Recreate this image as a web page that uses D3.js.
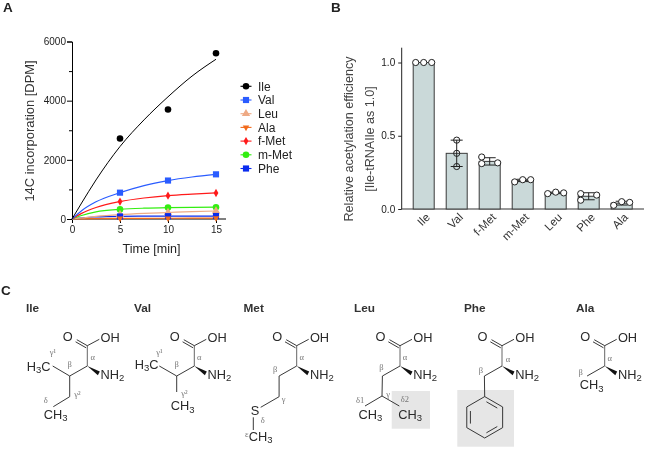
<!DOCTYPE html>
<html><head><meta charset="utf-8">
<script src="https://cdn.jsdelivr.net/npm/d3@7"></script>
<style>html,body{margin:0;padding:0;background:#fff}svg{display:block;font-family:"Liberation Sans",Arial,sans-serif}svg text{filter:grayscale(1)}</style>
</head><body><div id="c"></div>
<script>
// Panel A data
const timePoints=[5,10,15];
const fitTimes=[0,1,2.5,5,7.5,10,12.5,15];
const seriesNames=["Ile","Val","Leu","Ala","f-Met","m-Met","Phe"];
const seriesColors=["#000000","#2a5cff","#eeaa85","#f26a1b","#ff1a1a","#33ee11","#0a2bee"];
const seriesSymbols=["circle","square","triangle","triangleDown","diamond","circle","square"];
const ilePts=[2720,3700,5600], valPts=[890,1300,1510], leuPts=[150,220,270], alaPts=[20,25,30], fmetPts=[590,790,880], mmetPts=[325,385,400], phePts=[85,95,100];
const ileFit=[0,540,1320,2450,3350,4130,4830,5400], valFit=[0,280,580,890,1130,1300,1420,1510], leuFit=[0,35,90,150,190,220,250,270], alaFit=[0,5,12,20,24,26,28,30], fmetFit=[0,190,390,590,710,790,840,880], mmetFit=[0,120,240,325,365,385,395,400], pheFit=[0,40,70,90,95,98,100,100];
const allPts=[ilePts,valPts,leuPts,alaPts,fmetPts,mmetPts,phePts];
const allFit=[ileFit,valFit,leuFit,alaFit,fmetFit,mmetFit,pheFit];
// Panel B data
const barNames=["Ile","Val","f-Met","m-Met","Leu","Phe","Ala"];
const barMeans=[1.0,0.38,0.325,0.195,0.11,0.087,0.04];
const barReps=[[1,1,1],[0.47,0.38,0.29],[0.355,0.31,0.315],[0.185,0.2,0.2],[0.105,0.115,0.11],[0.105,0.06,0.095],[0.025,0.05,0.045]];
const barSD=[0,0.09,0.025,0.008,0.005,0.024,0.013];
const barJitter=[[-1,0,1],[0,0,0],[-1,-1,1],[-1,0,1],[-1,0,1],[-1,-1,1],[-1,0,1]];
// Panel C data: structures, offsets from the alpha carbon
const aminoNames=["Ile","Val","Met","Leu","Phe","Ala"];
const titleX=[26,134,243.5,354,464,576];
const alphaX=[87.3,194.3,296.7,400,502,604.7];
const B=[-17.6,10];
const chainBonds=[
 [[B,[-34.6,0]],[B,[-17.6,30.7]],[[-17.6,30.7],[-34,40.7]]],
 [[B,[-35,0]],[B,[-17.6,26]]],
 [[B,[-17.6,30.7]],[[-17.6,30.7],[-36,41.3]],[[-43.4,51.3],[-43.4,64]]],
 [[B,[-18,30]],[[-18,30],[-35,40]],[[-18,30],[-0.7,40]]],
 [[B,[-17.3,30.7]]],
 []
];
const atomLabels=[
 [["H3C",-60.6,4.5],["CH3",-43.6,52.5]],
 [["H3C",-59.5,2.5],["CH3",-23.5,44]],
 [["S",-46,49],["CH3",-47.9,74.5]],
 [["CH3",-41.6,52.5],["CH3",-1.7,52.5]],
 [],
 [["CH3",-25,23]]
];
const greekLabels=[
 [["α",5.5,-6],["β",-17.6,1],["γ¹",-34.5,-11],["γ²",-10,31],["δ",-41.5,37]],
 [["α",5,-6],["β",-17.6,1],["γ¹",-35,-11],["γ²",-10,30]],
 [["α",5,-6],["β",-21.5,6],["γ",-13,36],["δ",-34,57],["ε",-50,71]],
 [["α",5,-6],["β",-18.5,4],["γ",-12,31],["δ1",-40,37],["δ2",5,36]],
 [["α",6,-4],["β",-21,7]],
 [["α",5,-5],["β",-24,9]]
];
const shadeBoxes=[null,null,null,[-8.3,25,38.3,37.7],[-44.7,24,56.7,56.7],null];
const ringCenter=[-17.3,51.3], ringRadius=20.7, ringVertices=[0,1,2,3,4,5];

const W=646,H=450;
const svg=d3.select("#c").append("svg").attr("width",W).attr("height",H);
const ink="#222";
function label(t,x,y,s,w,a){return svg.append("text").attr("x",x).attr("y",y).attr("font-size",s).attr("font-weight",w||"normal").attr("fill",ink).attr("text-anchor",a||"start").text(t);}
label("A",3,12,13.5,"bold");label("B",331,12,13.5,"bold");label("C",1,295,13.5,"bold");

// ---- A
const xA=d3.scaleLinear().domain([0,15]).range([72,216]);
const yA=d3.scaleLinear().domain([0,6000]).range([219,41.5]);
const gA=svg.append("g");
const axXA=gA.append("g").attr("transform","translate(0,219)").call(d3.axisBottom(xA).tickValues([0,5,10,15]).tickSize(4).tickFormat(d3.format("d")));
axXA.select(".domain").attr("d","M72,0H226");
const axYA=gA.append("g").attr("transform","translate(72,0)").call(d3.axisLeft(yA).tickValues([0,2000,4000,6000]).tickSize(5).tickPadding(1).tickFormat(d3.format("d")));
gA.append("g").attr("transform","translate(72,0)").call(d3.axisLeft(yA).tickValues([1000,3000,5000]).tickSize(3).tickFormat("")).select(".domain").remove();
gA.selectAll("text").attr("font-size",10).attr("fill",ink).attr("font-family","Liberation Sans");
gA.selectAll("path,line").attr("stroke","#000").attr("stroke-width",1);
const sym=(n,s)=>d3.symbol().type({circle:d3.symbolCircle,square:d3.symbolSquare,triangle:d3.symbolTriangle,triangleDown:d3.symbolTriangle2,diamond:d3.symbolDiamond}[n]).size(s)();
function marker(g,i,x,y){
  const n=seriesSymbols[i];
  const size=n==="circle"?34:n==="square"?38:n==="diamond"?20:30;
  return g.append("path").attr("d",sym(n,size)).attr("fill",seriesColors[i]).attr("transform",`translate(${x},${y})`+(n==="triangleDown"?" rotate(180)":""));
}
const ln=d3.line().x(d=>xA(d[0])).y(d=>yA(d[1])).curve(d3.curveMonotoneX);
[6,3,2,5,4,1,0].forEach(i=>{
  svg.append("path").attr("d",ln(fitTimes.map((t,k)=>[t,allFit[i][k]]))).attr("fill","none").attr("stroke",seriesColors[i]).attr("stroke-width",i===0?1:1.2);
});
[0,1,4,5,2,6,3].forEach(i=>{
  timePoints.forEach((t,k)=>marker(svg,i,xA(t),yA(allPts[i][k])));
});
const legY=d3.scalePoint().domain(seriesNames).range([86.3,168.5]);
seriesNames.forEach((n,i)=>{
  svg.append("line").attr("x1",240.5).attr("x2",251.5).attr("y1",legY(n)).attr("y2",legY(n)).attr("stroke",seriesColors[i]).attr("stroke-width",1.1);
  marker(svg,i,246,legY(n));
  label(n,258,legY(n)+4.3,12);
});
label("14C incorporation [DPM]",0,0,12.9,"normal","middle").attr("fill","#333").attr("transform","translate(34,131) rotate(-90)");
label("Time [min]",151.5,253,12.5,"normal","middle");

// ---- B
const bx=d3.scalePoint().domain(barNames).range([423.7,621.7]);
const yB=d3.scaleLinear().domain([0,1]).range([209,62.5]);
const gB=svg.append("g");
const axYB=gB.append("g").attr("transform","translate(401.7,0)").call(d3.axisLeft(yB).tickValues([0,0.5,1]).tickSize(3.5).tickPadding(3).tickFormat(d3.format(".1f")));
axYB.select(".domain").attr("d","M0,47.7V209");
gB.selectAll("text").attr("font-size",10).attr("fill",ink);
gB.selectAll("path,line").attr("stroke","#222").attr("stroke-width",1);
svg.append("line").attr("x1",401.2).attr("x2",644).attr("y1",209).attr("y2",209).attr("stroke","#333").attr("stroke-width",1);
barNames.forEach((n,i)=>{
  const c=bx(n);
  svg.append("rect").attr("x",c-10.5).attr("y",yB(barMeans[i])).attr("width",21).attr("height",209-yB(barMeans[i])).attr("fill","#cad9d9").attr("stroke","#3a3a3a").attr("stroke-width",1);
  if(barSD[i]>0){
    const t=yB(barMeans[i]+barSD[i]),b=yB(barMeans[i]-barSD[i]);
    svg.append("path").attr("d",`M${c},${t}V${b}M${c-6},${t}H${c+6}M${c-6},${b}H${c+6}`).attr("fill","none").attr("stroke","#222").attr("stroke-width",1);
  }
  barReps[i].forEach((v,k)=>{
    svg.append("circle").attr("cx",c+barJitter[i][k]*8).attr("cy",yB(v)).attr("r",3.1).attr("fill","#fff").attr("fill-opacity",barSD[i]>0.05?0:1).attr("stroke","#222").attr("stroke-width",1);
  });
  label(n,0,0,11.5,"normal","end").attr("fill","#333").attr("transform",`translate(${c+7},${218}) rotate(-45)`);
});
label("Relative acetylation efficiency",0,0,12.6,"normal","middle").attr("fill","#444").attr("transform","translate(353,139) rotate(-90)");
label("[Ile-tRNAIle as 1.0]",0,0,12.6,"normal","middle").attr("fill","#444").attr("transform","translate(374,139) rotate(-90)");

// ---- C
const aY=366;
function chem(g,t,x,y){
  const e=g.append("text").attr("x",x).attr("y",y).attr("font-size",12.8).attr("fill","#2a2a2a");
  let shift=false;
  t.split(/(\d)/).forEach(p=>{
    if(!p)return;
    if(/\d/.test(p)){e.append("tspan").attr("font-size",9.5).attr("dy",2.5).text(p);shift=true;}
    else{const s=e.append("tspan").text(p);if(shift){s.attr("dy",-2.5);shift=false;}}
  });
  return e;
}
aminoNames.forEach((n,i)=>{
  label(n,titleX[i],312,11.8,"bold").attr("fill","#333");
  const g=svg.append("g").attr("transform",`translate(${alphaX[i]},${aY})`);
  if(shadeBoxes[i]){const s=shadeBoxes[i];g.append("rect").attr("x",s[0]).attr("y",s[1]).attr("width",s[2]).attr("height",s[3]).attr("fill","#e6e6e6");}
  const bond=(a,b,col)=>g.append("line").attr("x1",a[0]).attr("y1",a[1]).attr("x2",b[0]).attr("y2",b[1]).attr("stroke",col||"#222").attr("stroke-width",.9);
  bond([0,0],[0,-20.3],"#555");
  bond([0,-20.3],[-10.5,-26.3]);bond([-1.2,-18.2],[-11.7,-24.2]);
  bond([0,-20.3],[12,-26.7]);
  g.append("path").attr("d","M0,0L12.5,5.6L10.6,9.2Z").attr("fill","#111");
  bond([0,0],B);
  chainBonds[i].forEach(b=>bond(b[0],b[1]));
  chem(g,"O",-24.5,-25);chem(g,"OH",13.2,-24.5);chem(g,"NH2",13.3,12.7);
  atomLabels[i].forEach(a=>chem(g,a[0],a[1],a[2]));
  greekLabels[i].forEach(a=>{g.append("text").attr("x",a[1]).attr("y",a[2]).attr("font-size",8.5).attr("font-family","Liberation Serif").attr("text-anchor","middle").attr("fill","#777").text(a[0]);});
  if(n==="Phe"){
    const rc=ringCenter,r=ringRadius;
    const v=ringVertices.map(k=>[rc[0]+r*Math.sin(k*Math.PI/3),rc[1]-r*Math.cos(k*Math.PI/3)]);
    g.append("path").attr("d",d3.line()(v)+"Z").attr("fill","none").attr("stroke","#222").attr("stroke-width",.9);
    const vi=ringVertices.map(k=>[rc[0]+(r-4.2)*Math.sin(k*Math.PI/3),rc[1]-(r-4.2)*Math.cos(k*Math.PI/3)]);
    [[0,1],[2,3],[4,5]].forEach(p=>{
      const a=vi[p[0]],b=vi[p[1]];
      bond([a[0]+(b[0]-a[0])*.12,a[1]+(b[1]-a[1])*.12],[a[0]+(b[0]-a[0])*.88,a[1]+(b[1]-a[1])*.88]);
    });
  }
});
</script></body></html>
